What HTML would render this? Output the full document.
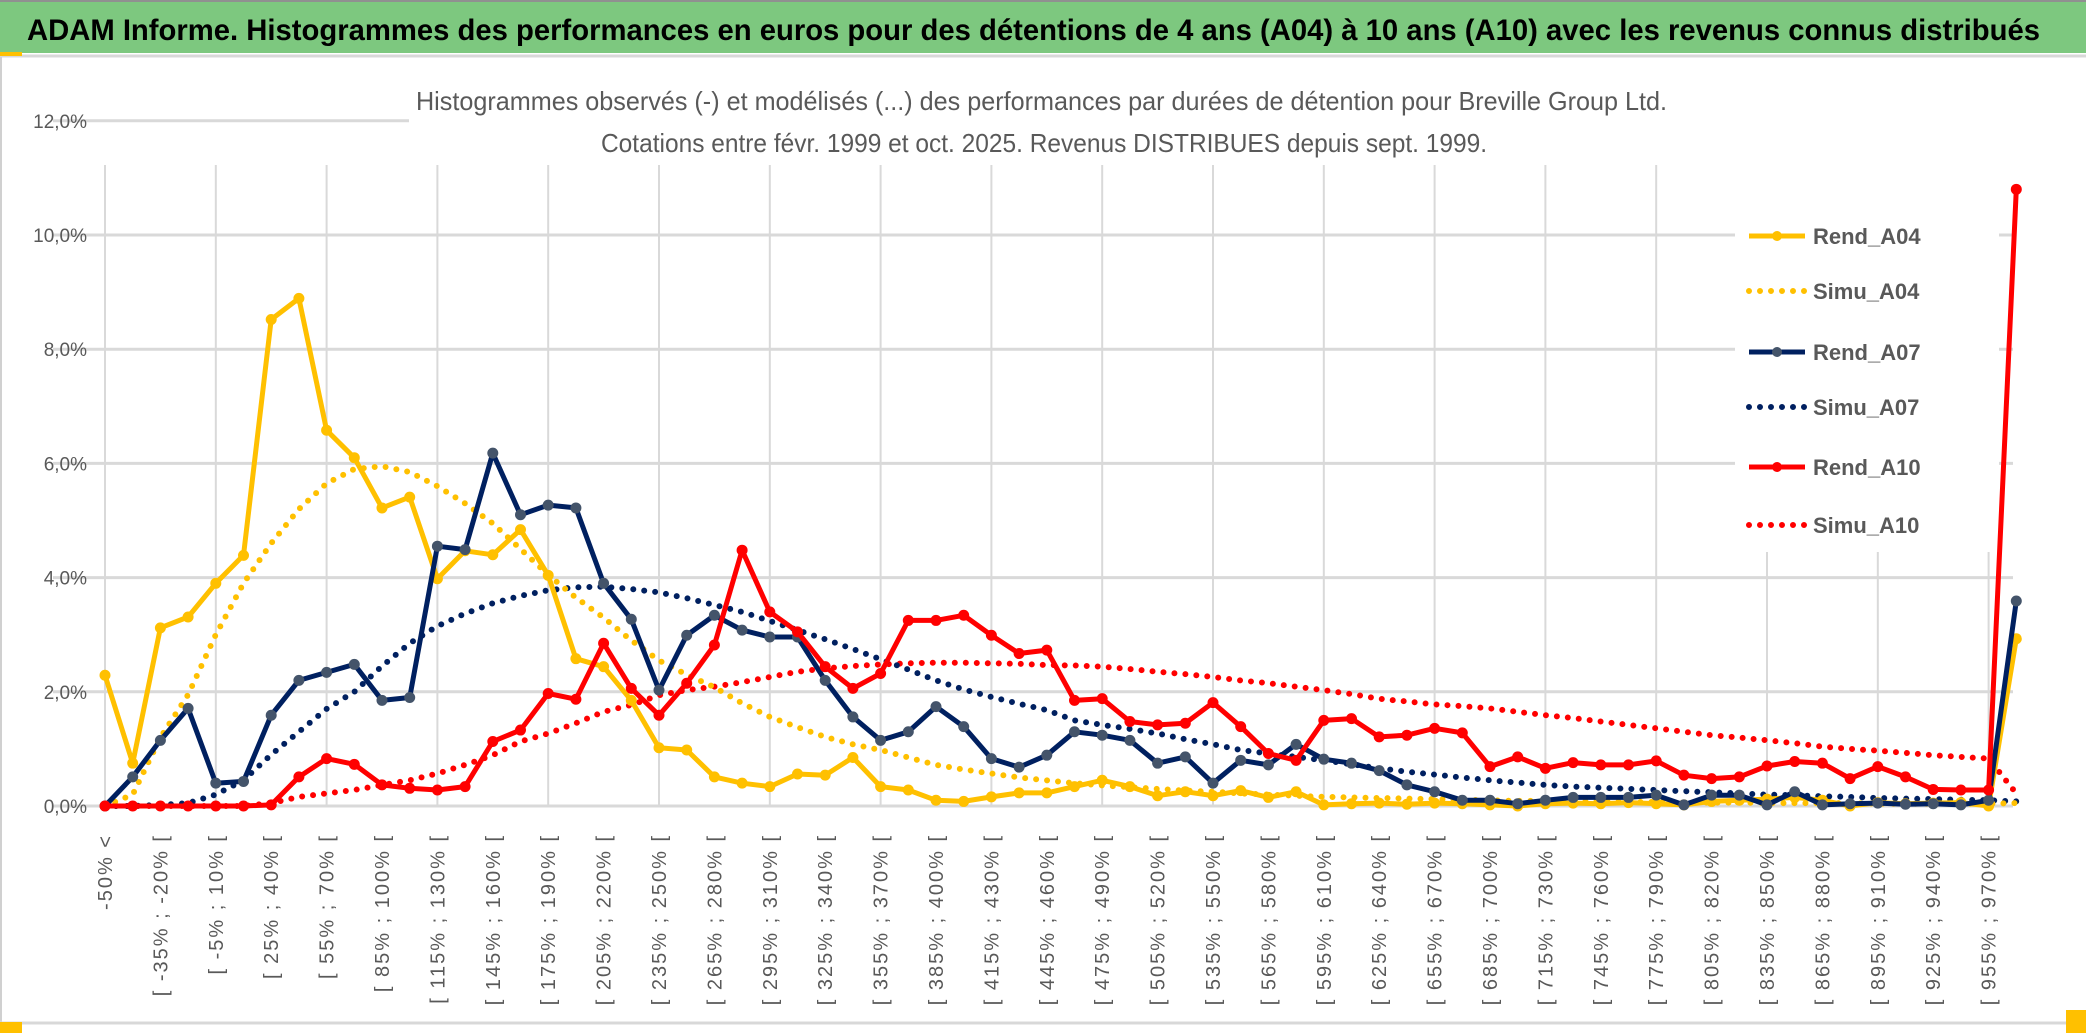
<!DOCTYPE html>
<html><head><meta charset="utf-8">
<style>
html,body{margin:0;padding:0;background:#fff;}
svg{display:block;font-family:"Liberation Sans",sans-serif;}
</style></head>
<body>
<svg id="chart" width="2086" height="1033" viewBox="0 0 2086 1033" xmlns="http://www.w3.org/2000/svg">
  <rect x="0" y="0" width="2086" height="1033" fill="#fff"/>
  <rect x="0" y="2" width="2086" height="51" fill="#7dc87f"/>
  <line x1="0" y1="1" x2="2086" y2="1" stroke="#909090" stroke-width="2"/>
  <line x1="0" y1="56" x2="2086" y2="56" stroke="#d8d8d8" stroke-width="3"/>
  <rect x="0" y="52" width="22" height="4" fill="#ffc000"/>
  <text x="27" y="40" font-size="30" font-weight="bold" fill="#000" textLength="2013" lengthAdjust="spacingAndGlyphs">ADAM Informe. Histogrammes des performances en euros pour des détentions de 4 ans (A04) à 10 ans (A10) avec les revenus connus distribués</text>
  <line x1="1" y1="57" x2="1" y2="1026" stroke="#d0d0d0" stroke-width="2"/>
  <line x1="0" y1="1023" x2="2086" y2="1023" stroke="#d8d8d8" stroke-width="3"/>
  <rect x="0" y="1022" width="22" height="11" fill="#ffc000"/>
  <rect x="2066" y="1010" width="20" height="23" fill="#ffc000"/>
  <g id="grid"></g>
  <rect x="409" y="75" width="1610" height="90" fill="#fff"/>
  <rect x="1735" y="165" width="264" height="387" fill="#fff"/>
  <g id="series"></g>
  <text x="416" y="110" font-size="26" fill="#595959" textLength="1251" lengthAdjust="spacingAndGlyphs">Histogrammes observés (-) et modélisés (...) des performances par durées de détention pour Breville Group Ltd.</text>
  <text x="601" y="152" font-size="26" fill="#595959" textLength="886" lengthAdjust="spacingAndGlyphs">Cotations entre févr. 1999 et oct. 2025. Revenus DISTRIBUES depuis sept. 1999.</text>
  <g id="axes"></g>
  <g id="legend"></g>
</svg>
<script>
const categories = ["-50% <","[ -50% ; -35% [","[ -35% ; -20% [","[ -20% ; -5% [","[ -5% ; 10% [","[ 10% ; 25% [","[ 25% ; 40% [","[ 40% ; 55% [","[ 55% ; 70% [","[ 70% ; 85% [","[ 85% ; 100% [","[ 100% ; 115% [","[ 115% ; 130% [","[ 130% ; 145% [","[ 145% ; 160% [","[ 160% ; 175% [","[ 175% ; 190% [","[ 190% ; 205% [","[ 205% ; 220% [","[ 220% ; 235% [","[ 235% ; 250% [","[ 250% ; 265% [","[ 265% ; 280% [","[ 280% ; 295% [","[ 295% ; 310% [","[ 310% ; 325% [","[ 325% ; 340% [","[ 340% ; 355% [","[ 355% ; 370% [","[ 370% ; 385% [","[ 385% ; 400% [","[ 400% ; 415% [","[ 415% ; 430% [","[ 430% ; 445% [","[ 445% ; 460% [","[ 460% ; 475% [","[ 475% ; 490% [","[ 490% ; 505% [","[ 505% ; 520% [","[ 520% ; 535% [","[ 535% ; 550% [","[ 550% ; 565% [","[ 565% ; 580% [","[ 580% ; 595% [","[ 595% ; 610% [","[ 610% ; 625% [","[ 625% ; 640% [","[ 640% ; 655% [","[ 655% ; 670% [","[ 670% ; 685% [","[ 685% ; 700% [","[ 700% ; 715% [","[ 715% ; 730% [","[ 730% ; 745% [","[ 745% ; 760% [","[ 760% ; 775% [","[ 775% ; 790% [","[ 790% ; 805% [","[ 805% ; 820% [","[ 820% ; 835% [","[ 835% ; 850% [","[ 850% ; 865% [","[ 865% ; 880% [","[ 880% ; 895% [","[ 895% ; 910% [","[ 910% ; 925% [","[ 925% ; 940% [","[ 940% ; 955% [","[ 955% ; 970% [","> 970%"];
const rendA04 = [2.29,0.75,3.12,3.31,3.9,4.39,8.52,8.89,6.58,6.1,5.22,5.41,3.98,4.47,4.4,4.84,4.04,2.58,2.44,1.85,1.02,0.98,0.51,0.4,0.34,0.56,0.54,0.85,0.34,0.28,0.1,0.08,0.16,0.23,0.23,0.34,0.45,0.34,0.18,0.25,0.18,0.27,0.15,0.25,0.02,0.04,0.05,0.03,0.05,0.04,0.02,0.0,0.04,0.05,0.04,0.06,0.04,0.02,0.08,0.1,0.12,0.15,0.1,0.0,0.06,0.04,0.05,0.06,0.0,2.93];
const simuA04 = [0,0.2,1.2,1.95,3.0,3.9,4.6,5.2,5.65,5.9,5.95,5.85,5.6,5.3,4.95,4.5,4.05,3.65,3.3,2.9,2.55,2.3,2.08,1.8,1.56,1.38,1.21,1.08,0.98,0.85,0.72,0.64,0.57,0.5,0.45,0.4,0.36,0.33,0.3,0.27,0.25,0.22,0.2,0.18,0.16,0.15,0.14,0.13,0.12,0.11,0.1,0.09,0.09,0.08,0.08,0.07,0.07,0.06,0.06,0.06,0.05,0.05,0.05,0.05,0.04,0.04,0.04,0.04,0.04,0.05];
const rendA07 = [0,0.51,1.15,1.71,0.4,0.43,1.59,2.2,2.34,2.48,1.85,1.9,4.55,4.49,6.18,5.1,5.27,5.22,3.9,3.27,2.03,2.99,3.34,3.08,2.96,2.96,2.2,1.56,1.15,1.3,1.74,1.39,0.83,0.68,0.89,1.3,1.24,1.15,0.75,0.86,0.4,0.8,0.72,1.08,0.82,0.75,0.62,0.37,0.25,0.1,0.1,0.04,0.1,0.15,0.15,0.15,0.19,0.02,0.19,0.19,0.02,0.25,0.02,0.04,0.05,0.03,0.04,0.02,0.1,3.59];
const simuA07 = [0,0,0.02,0.05,0.2,0.45,0.9,1.3,1.7,2.0,2.45,2.85,3.15,3.37,3.55,3.68,3.78,3.83,3.84,3.8,3.74,3.64,3.52,3.4,3.24,3.08,2.92,2.75,2.57,2.39,2.2,2.04,1.91,1.79,1.68,1.5,1.42,1.35,1.27,1.17,1.08,0.98,0.92,0.86,0.8,0.73,0.66,0.6,0.55,0.5,0.45,0.41,0.37,0.34,0.32,0.3,0.28,0.26,0.24,0.22,0.2,0.19,0.17,0.16,0.14,0.13,0.12,0.11,0.1,0.08];
const rendA10 = [0,0,0,0,0,0,0.02,0.51,0.83,0.73,0.37,0.31,0.28,0.34,1.13,1.33,1.97,1.87,2.85,2.06,1.59,2.15,2.82,4.48,3.4,3.05,2.44,2.06,2.32,3.25,3.25,3.34,2.99,2.67,2.73,1.85,1.88,1.48,1.42,1.45,1.81,1.39,0.92,0.8,1.5,1.53,1.21,1.24,1.36,1.28,0.69,0.86,0.66,0.76,0.72,0.72,0.79,0.54,0.48,0.51,0.7,0.78,0.75,0.48,0.69,0.51,0.29,0.28,0.28,10.8];
const simuA10 = [0,0,0,0,0,0,0.05,0.16,0.22,0.28,0.37,0.45,0.57,0.72,0.89,1.13,1.27,1.45,1.65,1.77,1.94,2.03,2.09,2.17,2.26,2.35,2.41,2.45,2.48,2.5,2.51,2.51,2.5,2.49,2.47,2.46,2.44,2.4,2.35,2.31,2.26,2.2,2.15,2.09,2.03,1.96,1.88,1.83,1.78,1.75,1.71,1.65,1.59,1.54,1.48,1.42,1.36,1.3,1.24,1.2,1.15,1.1,1.04,1.0,0.97,0.93,0.89,0.86,0.83,0.22];
const yTicks = [0,2,4,6,8,10,12];
const yTickLabels = ["0,0%","2,0%","4,0%","6,0%","8,0%","10,0%","12,0%"];
const legendNames = ["Rend_A04","Simu_A04","Rend_A07","Simu_A07","Rend_A10","Simu_A10"];

const NS = "http://www.w3.org/2000/svg";
const X0 = 105, XSTEP = 27.7, Y0 = 806, YPER = 57.1, XEND = 2013;
function xScale(i){ return X0 + i * XSTEP; }
function yScale(v){ return Y0 - v * YPER; }
function mk(tag, attrs, parent){
  const e = document.createElementNS(NS, tag);
  for (const k in attrs) e.setAttribute(k, attrs[k]);
  parent.appendChild(e);
  return e;
}
const grid = document.getElementById('grid');
const axes = document.getElementById('axes');
const seriesG = document.getElementById('series');
const legend = document.getElementById('legend');

for (let i = 0; i < categories.length; i += 4) {
  const l = mk('line', {x1: xScale(i), x2: xScale(i), y1: 165, y2: Y0, stroke: '#d9d9d9', 'stroke-width': 2}, grid);
  
  
}
yTicks.forEach((t, k) => {
  const gl = mk('line', {x1: 53, x2: XEND, y1: yScale(t), y2: yScale(t), stroke: '#d9d9d9', 'stroke-width': 3}, grid);
  
  
  const tl = mk('text', {x: 87, y: yScale(t) + 7, 'text-anchor': 'end', 'font-size': 19, fill: '#595959'}, axes);
  tl.textContent = yTickLabels[k];
  
  
});
categories.forEach((c, i) => {
  if (i % 2 !== 0) return;
  const t = mk('text', {transform: 'translate(' + (xScale(i) + 7) + ',834) rotate(-90)', 'text-anchor': 'end', 'font-size': 20, 'letter-spacing': 2, fill: '#595959'}, axes);
  t.textContent = c;
  
  
});

function pathOf(vals){
  return vals.map((v, i) => (i ? 'L' : 'M') + xScale(i).toFixed(1) + ',' + yScale(v).toFixed(1)).join(' ');
}
function drawSimu(vals, color, name){
  const p = mk('path', {d: pathOf(vals), fill: 'none', stroke: color, 'stroke-width': 6, 'stroke-linecap': 'round', 'stroke-dasharray': '0 11'}, seriesG);
  
  
}
function drawRend(vals, color, marker, name){
  const p = mk('path', {d: pathOf(vals), fill: 'none', stroke: color, 'stroke-width': 5, 'stroke-linejoin': 'round'}, seriesG);
  
  
  vals.forEach((v, i) => {
    const c = mk('circle', {cx: xScale(i), cy: yScale(v), r: 5, fill: marker, stroke: marker, 'stroke-width': 1}, seriesG);
    
    
  });
}
drawSimu(simuA10, '#ff0000', 'simu-a10-line');
drawSimu(simuA07, '#002060', 'simu-a07-line');
drawSimu(simuA04, '#ffc000', 'simu-a04-line');
drawRend(rendA04, '#ffc000', '#ffc000', 'rend-a04-line');
drawRend(rendA07, '#002060', '#44546a', 'rend-a07-line');
drawRend(rendA10, '#ff0000', '#ff0000', 'rend-a10-line');

const legendY = [236, 291, 352, 407, 467, 525];
const legendColors = ['#ffc000','#ffc000','#002060','#002060','#ff0000','#ff0000'];
legendNames.forEach((n, k) => {
  const dotted = n.indexOf('Simu') === 0;
  const attrs = {x1: 1749, x2: 1805, y1: legendY[k], y2: legendY[k], stroke: legendColors[k], 'stroke-width': dotted ? 6 : 5};
  if (dotted) { attrs['stroke-dasharray'] = '0 11'; attrs['stroke-linecap'] = 'round'; }
  const ln = mk('line', attrs, legend);
  
  
  if (!dotted) {
    const mc = k === 2 ? '#44546a' : legendColors[k];
    const c = mk('circle', {cx: 1777, cy: legendY[k], r: 5, fill: mc}, legend);
    
    
  }
  const t = mk('text', {x: 1813, y: legendY[k] + 8, 'font-size': 22, 'font-weight': 'bold', fill: '#595959'}, legend);
  t.textContent = n;
  
  
});
</script>
</body></html>
